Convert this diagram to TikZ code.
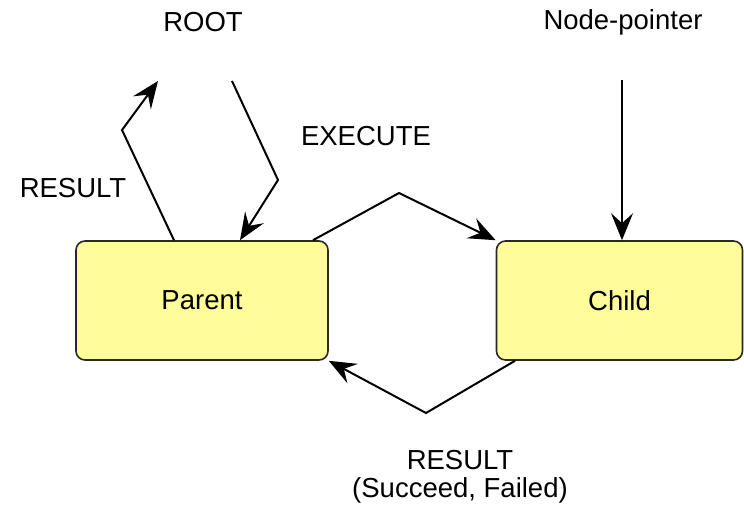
\documentclass[tikz,border=0pt]{standalone}
\usepackage{fontspec}
\setmainfont{Liberation Sans}
\usetikzlibrary{arrows.meta}
\definecolor{boxfill}{RGB}{255,252,153}
\definecolor{boxline}{RGB}{40,40,40}
\tikzset{
  statebox/.style={draw=boxline, line width=1.6pt, fill=boxfill, rounded corners=9pt,
    minimum width=#1, minimum height=119pt, inner sep=0pt, font=\fontsize{27.5}{32}\selectfont},
  conn/.style={line width=2pt, -{Stealth[length=27pt,width=22pt,inset=10pt]}},
  lbl/.style={font=\fontsize{27.5}{32}\selectfont, inner sep=0pt, align=center}
}
\begin{document}
\begin{tikzpicture}[x=1pt,y=-1pt]
\useasboundingbox (0,0) rectangle (744,506);
\node[statebox=252pt] (parent) at (202,300.5) {\raisebox{-2pt}{Parent}};
\node[statebox=246pt] (child) at (619.5,300.5) {\raisebox{-2pt}{Child}};
\node[lbl] (root) at (203,22) {ROOT};
\node[lbl] (np) at (623,22) {Node-pointer};
\node[lbl] (exec) at (366,136) {EXECUTE};
\node[lbl] (res1) at (73,188) {RESULT};
\node[lbl] (res2) at (460,460) {RESULT};
\node[lbl] (res3) at (460,490) {(Succeed, Failed)};
% coordinates
\coordinate (a1) at (174,241);
\coordinate (a2) at (122,130);
\coordinate (a3) at (158,81);
\coordinate (b1) at (232,81);
\coordinate (b2) at (278,180);
\coordinate (b3) at (240,241);
\coordinate (c1) at (313,241);
\coordinate (c2) at (399,193);
\coordinate (d1) at (622,80);
\coordinate (e1) at (515,360);
\coordinate (e2) at (426,413);
% connectors
\draw[conn] (parent.north -| a1) -- (a2) -- (a3);
\draw[conn] (b1) -- (b2) -- (parent.north -| b3);
\draw[conn] (parent.north -| c1) -- (c2) -- (child.north west);
\draw[conn] (d1) -- (child.north -| d1);
\draw[conn] (child.south -| e1) -- (e2) -- (parent.south east);
\end{tikzpicture}
\end{document}
